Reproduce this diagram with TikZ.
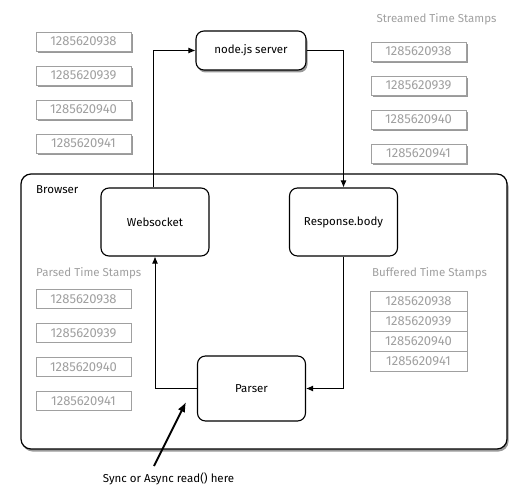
\documentclass[tikz,border=0pt]{standalone}
\usepackage{fontspec}
\setmainfont{Fira Sans}
\usetikzlibrary{arrows.meta,shadows}
\definecolor{stampgray}{HTML}{A0A0A0}

\tikzset{
  stamp/.style={draw=stampgray, line width=0.8pt, text=stampgray, fill=white,
    minimum width=95pt, minimum height=19pt, inner sep=0pt,
    font=\fontsize{13}{15}\selectfont},
  shadowed/.style={drop shadow={shadow xshift=1.5pt, shadow yshift=-2.5pt, opacity=.4, fill=black}},
  proc/.style={draw, line width=1.1pt, rounded corners=8pt, fill=white, inner sep=0pt,
    minimum width=108pt, minimum height=68pt, font=\fontsize{11.5}{13}\selectfont},
  caption/.style={text=stampgray, inner sep=0pt, font=\fontsize{11.5}{13}\selectfont},
  flow/.style={line width=0.9pt, -{Latex[length=7pt,width=6pt]}}
}

\begin{document}
\begin{tikzpicture}[x=1pt, y=-1pt]
    \useasboundingbox (0,0) rectangle (527,497);
    % browser frame
    \node[draw, line width=1.2pt, rounded corners=10pt, fill=white, shadowed,
      minimum width=486pt, minimum height=275pt, inner sep=0pt] (browser) at (264,311.5) {};
    \node[anchor=west, inner sep=0pt, font=\fontsize{11.5}{13}\selectfont] at (36,190) {Browser};
    % time stamps
    \node[caption] at (436.5,19) {Streamed Time Stamps};
    \node[caption, anchor=west] at (36,273) {Parsed Time Stamps};
    \node[caption, anchor=west] at (372,273) {Buffered Time Stamps};
    \foreach \n [count=\i] in {38,39,40,41} {
      \node[stamp, shadowed] (left\i) at (83.5,{41.5+34*(\i-1)}) {12856209\n};
      \node[stamp, shadowed] (streamed\i) at (418.5,{51.5+34*(\i-1)}) {12856209\n};
      \node[stamp] (parsed\i) at (83.5,{299+34*(\i-1)}) {12856209\n};
      \node[stamp, minimum width=97pt, minimum height=20pt] (buffered\i) at (418.5,{301+20*(\i-1)}) {12856209\n};
    }
    % processes
    \node[proc, shadowed, minimum width=110pt, minimum height=39pt] (server) at (251,50.5) {node.js server};
    \node[proc] (ws) at (155,222) {Websocket};
    \node[proc] (resp) at (343.5,222) {Response.body};
    \node[proc, minimum height=65pt] (parser) at (251.5,388.5) {Parser};
    \draw[flow] ([xshift=-2pt]ws.north) |- (server.west);
    \draw[flow] (server.east) -| (resp.north);
    \draw[flow] (resp.south) |- (parser.east);
    \draw[flow] (parser.west) -| (ws.south);
    % note
    \node[inner sep=0pt, font=\fontsize{11.5}{13}\selectfont] (note) at (168.5,479) {Sync or Async read() here};
    \coordinate (readpt) at (186,402);
    \draw[line width=1.8pt, -{Latex[length=10pt,width=8pt]}] (154,466) -- (readpt);
\end{tikzpicture}
\end{document}
